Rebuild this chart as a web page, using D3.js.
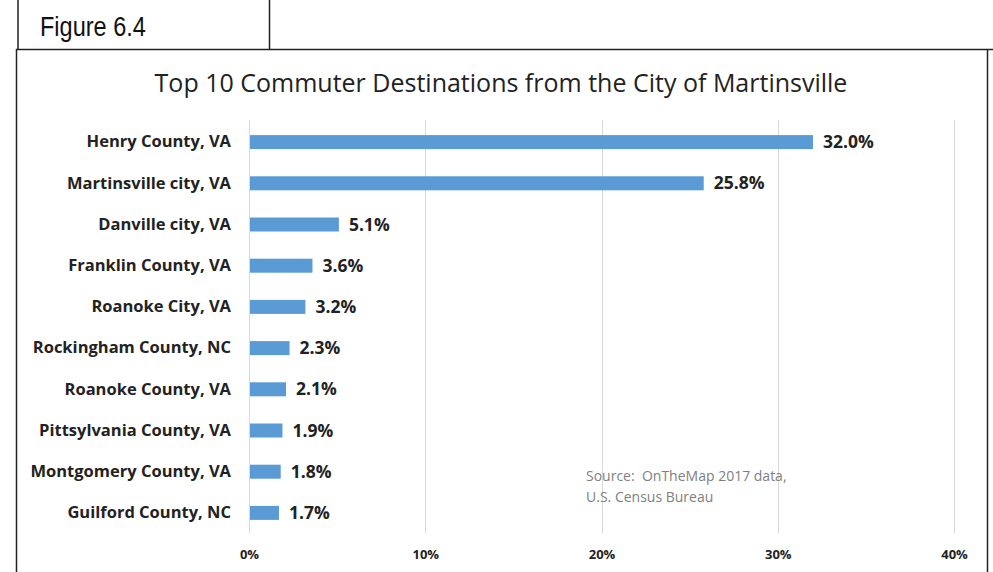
<!DOCTYPE html>
<html>
<head>
<meta charset="utf-8">
<script src="https://cdn.jsdelivr.net/npm/d3@7"></script>
<style>
  html, body { margin: 0; padding: 0; background: #fff; }
  svg { display: block; }
</style>
</head>
<body>
<svg id="chart" width="993" height="572"></svg>
<script>
// Top 10 commuter destinations (share of commuters, %)
const places = [
  "Henry County, VA",
  "Martinsville city, VA",
  "Danville city, VA",
  "Franklin County, VA",
  "Roanoke City, VA",
  "Rockingham County, NC",
  "Roanoke County, VA",
  "Pittsylvania County, VA",
  "Montgomery County, VA",
  "Guilford County, NC"
];
const shares = [32.0, 25.8, 5.1, 3.6, 3.2, 2.3, 2.1, 1.9, 1.8, 1.7];
const tickValues = [0, 10, 20, 30, 40];
const figureLabel = "Figure 6.4";
const titleText = "Top 10 Commuter Destinations from the City of Martinsville";
const sourceLines = ["Source:  OnTheMap 2017 data,", "U.S. Census Bureau"];

const svg = d3.select("#chart");
const bodyFont = "'Open Sans', Lato, sans-serif";

// Frame: figure caption cell and chart box
const frame = svg.append("g").attr("fill", "none").attr("stroke", "#222").attr("stroke-width", 1.5);
frame.append("path").attr("d", "M18,0 V49 M269.5,0 V49 M16,49.5 H993 M16.5,49 V572 M987.5,49 V572");

// Condensed caption text
svg.append("text")
  .attr("transform", "translate(40,36) scale(0.84,1)")
  .attr("font-family", "'Liberation Sans', Arial, sans-serif")
  .attr("font-size", 28)
  .attr("fill", "#111")
  .text(figureLabel);

svg.append("text")
  .attr("x", 501).attr("y", 92)
  .attr("text-anchor", "middle")
  .attr("font-family", bodyFont)
  .attr("font-size", 25)
  .attr("fill", "#222")
  .text(titleText);

// Scales
const x = d3.scaleLinear().domain([0, 40]).range([249, 954]);
const y = d3.scaleBand().domain(places).range([121.5, 533.5]).paddingInner(0.66).paddingOuter(0.33);

// Gridlines
svg.append("g")
  .selectAll("line")
  .data(tickValues)
  .join("line")
  .attr("x1", d => Math.round(x(d)) + 0.5)
  .attr("x2", d => Math.round(x(d)) + 0.5)
  .attr("y1", 120)
  .attr("y2", 533)
  .attr("stroke", "#d9d9d9")
  .attr("stroke-width", 1);

// X axis tick labels
const xAxis = d3.axisBottom(x).tickValues(tickValues).tickFormat(d => d + "%").tickSize(0).tickPadding(0);
const gx = svg.append("g").attr("transform", "translate(0,550)").call(xAxis);
gx.select(".domain").remove();
gx.selectAll("text")
  .attr("font-family", bodyFont)
  .attr("font-weight", "bold")
  .attr("font-size", 13)
  .attr("fill", "#222");

// Category labels
const yAxis = d3.axisLeft(y).tickSize(0).tickPadding(0);
const gy = svg.append("g").attr("transform", "translate(231,0)").call(yAxis);
gy.select(".domain").remove();
gy.selectAll("text")
  .attr("font-family", bodyFont)
  .attr("font-weight", "bold")
  .attr("font-size", 16.5)
  .attr("fill", "#222");

// Bars
const data = places.map((p, i) => ({ place: p, value: shares[i] }));
svg.append("g")
  .selectAll("rect")
  .data(data)
  .join("rect")
  .attr("x", x(0) + 1)
  .attr("y", d => y(d.place))
  .attr("width", d => x(d.value) - x(0) - 1)
  .attr("height", y.bandwidth())
  .attr("fill", "#5b9bd5");

// Value labels
svg.append("g")
  .selectAll("text")
  .data(data)
  .join("text")
  .attr("x", d => x(d.value) + 10)
  .attr("y", d => y(d.place) + y.bandwidth() / 2)
  .attr("dy", "0.35em")
  .attr("font-family", bodyFont)
  .attr("font-weight", "bold")
  .attr("font-size", 17.5)
  .attr("fill", "#222")
  .text(d => d.value.toFixed(1) + "%");

// Source note
svg.append("g")
  .selectAll("text")
  .data(sourceLines)
  .join("text")
  .attr("x", 586)
  .attr("y", (d, i) => 481 + i * 21)
  .attr("font-family", bodyFont)
  .attr("font-size", 14)
  .attr("fill", "#808080")
  .attr("xml:space", "preserve")
  .style("white-space", "pre")
  .text(d => d);
</script>
</body>
</html>
